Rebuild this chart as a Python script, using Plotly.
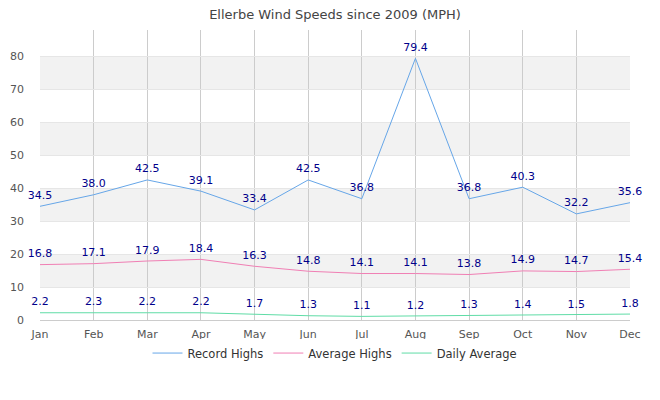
import plotly.graph_objects as go

months = ["Jan", "Feb", "Mar", "Apr", "May", "Jun", "Jul", "Aug", "Sep", "Oct", "Nov", "Dec"]
record_highs = [34.5, 38.0, 42.5, 39.1, 33.4, 42.5, 36.8, 79.4, 36.8, 40.3, 32.2, 35.6]
average_highs = [16.8, 17.1, 17.9, 18.4, 16.3, 14.8, 14.1, 14.1, 13.8, 14.9, 14.7, 15.4]
daily_average = [2.2, 2.3, 2.2, 2.2, 1.7, 1.3, 1.1, 1.2, 1.3, 1.4, 1.5, 1.8]
band_starts = [10, 30, 50, 70]

series = [
    ("Record Highs", record_highs, "#66a6e8"),
    ("Average Highs", average_highs, "#f07fb4"),
    ("Daily Average", daily_average, "#5fdca6"),
]

fig = go.Figure()
for name, vals, color in series:
    fig.add_trace(go.Scatter(
        x=months, y=vals, name=name, mode="lines+markers+text",
        line=dict(color=color, width=1),
        marker=dict(size=6, color="rgba(0,0,0,0)", line=dict(width=0)),
        text=[f"{v:.1f}" for v in vals], textposition="top center",
        textfont=dict(color="#00008b", size=11, family="DejaVu Sans"),
        cliponaxis=False,
    ))

for b in band_starts:
    fig.add_shape(type="rect", xref="paper", yref="y", x0=0, x1=1, y0=b, y1=b + 10,
                  fillcolor="#f2f2f2", line=dict(width=0), layer="below")

fig.update_layout(
    width=660, height=400,
    margin=dict(l=32, r=38, t=22, b=88),
    paper_bgcolor="white", plot_bgcolor="white",
    title=dict(text="Ellerbe Wind Speeds since 2009 (MPH)", x=0.5, xanchor="center",
               xref="paper", y=1 - 6 / 400, yanchor="middle",
               font=dict(size=13, color="#444", family="DejaVu Sans")),
    font=dict(family="DejaVu Sans", size=11, color="#555"),
    legend=dict(orientation="h", x=0.5, xanchor="center", y=-0.114, yanchor="middle",
                font=dict(size=11.5, color="#333")),
    xaxis=dict(range=[0, 11], showgrid=True, gridcolor="#cccccc", gridwidth=1,
               showline=True, linecolor="#cccccc", ticks="", zeroline=False,
               automargin=False, ticklabelstandoff=4),
    yaxis=dict(range=[0, 88], dtick=10, showgrid=True, gridcolor="#e6e6e6",
               showline=False, zeroline=False, ticks="", automargin=False,
               ticklabelstandoff=15),
)

fig.write_html("out.html")
